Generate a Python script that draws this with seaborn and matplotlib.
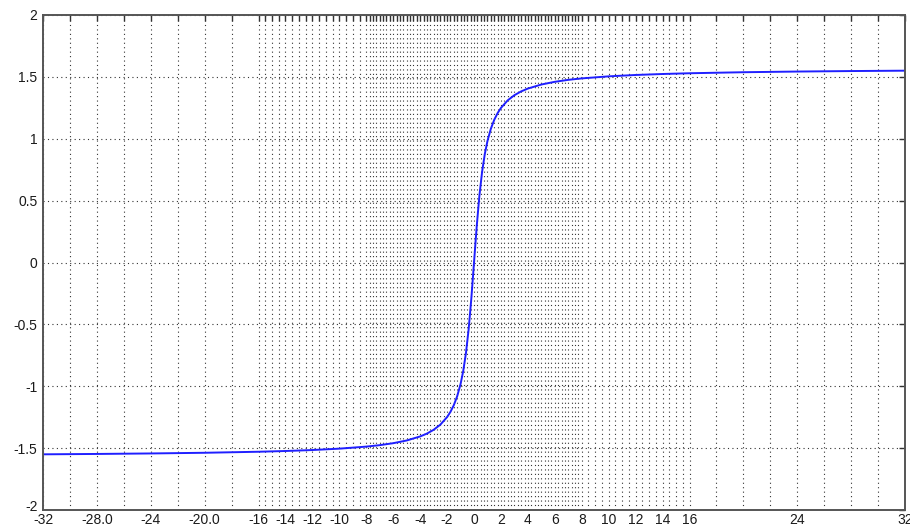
import numpy as np
import pandas as pd
import matplotlib
matplotlib.use("Agg")
import matplotlib.pyplot as plt
import seaborn as sns
from matplotlib.ticker import FixedLocator, FixedFormatter
from matplotlib.transforms import ScaledTranslation

# Curve values
x_vals = [-32, -28, -24, -20, -16, -14, -12, -10, -8, -7, -6, -5, -4, -3.5, -3, -2.5, -2,
          -1.75, -1.5, -1.25, -1, -0.8, -0.6, -0.4, -0.2, 0,
          0.2, 0.4, 0.6, 0.8, 1, 1.25, 1.5, 1.75, 2, 2.5, 3, 3.5, 4, 5, 6, 7, 8,
          10, 12, 14, 16, 20, 24, 28, 32]
y_pos = [0.2915, 0.5404, 0.7328, 0.8761, 0.9828, 1.0808, 1.1526, 1.2070, 1.2490,
         1.3102, 1.3521, 1.3826, 1.4056, 1.4382, 1.4601, 1.4760, 1.4877,
         1.5042, 1.5153, 1.5232, 1.5292, 1.5375, 1.5430, 1.5470, 1.5500]
y_vals = [-v for v in y_pos[::-1]] + [0.0] + y_pos

# Tick / grid positions and labels
x_grid = (list(np.arange(-32, -16, 2)) + list(np.arange(-16, -8, 0.5)) +
          list(np.arange(-8, 8, 0.25)) + list(np.arange(8, 16, 0.5)) +
          list(np.arange(16, 32.01, 2)))
x_labeled = {-32: "-32", -28: "-28.0", -24: "-24", -20: "-20.0", -16: "-16", -14: "-14",
             -12: "-12", -10: "-10", -8: "-8", -6: "-6", -4: "-4", -2: "-2", 0: "0",
             2: "2", 4: "4", 6: "6", 8: "8", 10: "10", 12: "12", 14: "14", 16: "16",
             24: "24", 32: "32"}
y_ticks = [-2, -1.5, -1, -0.5, 0, 0.5, 1, 1.5, 2]
y_labels = ["-2", "-1.5", "-1", "-0.5", "0", "0.5", "1", "1.5", "2"]

df = pd.DataFrame({"x": x_vals, "y": y_vals})

sns.set_style("white")
plt.rcParams["font.family"] = ["Liberation Sans", "DejaVu Sans"]

fig = plt.figure(figsize=(9.10, 5.26), dpi=100)
ax = fig.add_axes([0.0473, 0.0304, 0.9472, 0.9411])

sns.lineplot(data=df, x="x", y="y", ax=ax, color="#1f1fff", linewidth=1.4)

ax.set_xlim(-32, 32)
ax.set_ylim(-2, 2)

labels = [x_labeled.get(round(float(v), 2), "") if float(v).is_integer() else "" for v in x_grid]
ax.xaxis.set_major_locator(FixedLocator(x_grid))
ax.xaxis.set_major_formatter(FixedFormatter(labels))
ax.yaxis.set_major_locator(FixedLocator(y_ticks))
ax.yaxis.set_major_formatter(FixedFormatter(y_labels))

ax.grid(True, which="major", linestyle=(0, (1, 3)), color="#333333", linewidth=0.8)
ax.tick_params(direction="in", length=4, width=1.0, color="#333333",
               top=True, right=True, labelsize=10, labelcolor="#1a1a1a", pad=2)
ax.tick_params(axis="y", pad=4)
for s in ax.spines.values():
    s.set_color("#555555")
    s.set_linewidth(1.4)
ax.set_xlabel("")
ax.set_ylabel("")

# raise the bottom y label slightly, as in the reference
fig.canvas.draw()
ylabs = ax.get_yticklabels()
ylabs[0].set_transform(ylabs[0].get_transform() + ScaledTranslation(0, 5 / 100, fig.dpi_scale_trans))

fig.savefig("out.png", dpi=100)
